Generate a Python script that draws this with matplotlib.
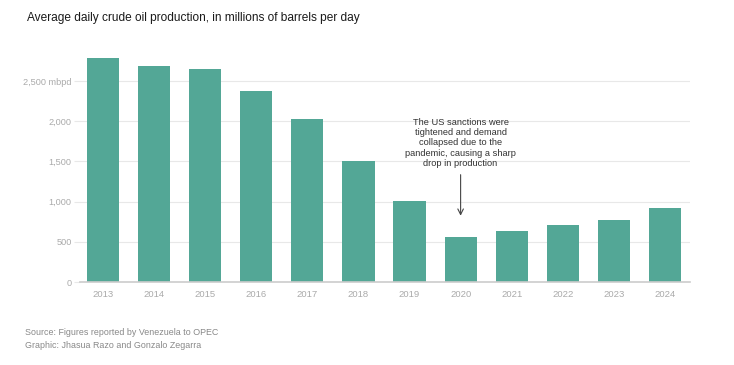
import matplotlib
matplotlib.use("Agg")
import matplotlib.pyplot as plt

years = ["2013", "2014", "2015", "2016", "2017", "2018", "2019", "2020", "2021", "2022", "2023", "2024"]
production = [2786, 2687, 2649, 2376, 2027, 1505, 1007, 560, 634, 709, 771, 920]
yticks = [0, 500, 1000, 1500, 2000, 2500]
ytick_labels = ["0", "500", "1,000", "1,500", "2,000", "2,500 mbpd"]

title = "Average daily crude oil production, in millions of barrels per day"
note = "The US sanctions were\ntightened and demand\ncollapsed due to the\npandemic, causing a sharp\ndrop in production"
source = "Source: Figures reported by Venezuela to OPEC\nGraphic: Jhasua Razo and Gonzalo Zegarra"

plt.rcParams['font.family'] = ['Liberation Sans', 'DejaVu Sans']

fig = plt.figure(figsize=(7.34, 3.65), dpi=100)
ax = fig.add_axes([80/734, 1-282/365, 610/734, (282-57)/365])

x = list(range(len(years)))
ax.bar(x, production, width=0.63, color="#53a796", zorder=2)

ax.set_xlim(-0.45, len(years) - 0.51)
ax.set_ylim(0, 2800)
ax.set_yticks(yticks)
ax.set_yticklabels(ytick_labels)
ax.set_xticks(x)
ax.set_xticklabels(years)

for s in ["top", "right", "left"]:
    ax.spines[s].set_visible(False)
ax.spines["bottom"].set_color("#cccccc")
ax.spines["bottom"].set_linewidth(1.2)
ax.spines["bottom"].set_zorder(3)

ax.grid(axis="y", color="#e8e8e8", linewidth=0.8, zorder=0)
ax.tick_params(axis="y", length=4, color="#e8e8e8", labelsize=6.6, labelcolor="#aaaaaa", pad=2)
ax.tick_params(axis="x", length=0, labelsize=6.8, labelcolor="#aaaaaa", pad=6)

# annotation
ax.annotate("", xy=(7, 790), xytext=(7, 1370),
            arrowprops=dict(arrowstyle="->", color="#444444", lw=0.8))
ax.text(7, 1420, note, ha="center", va="bottom", fontsize=6.7, color="#333333", linespacing=1.18)

fig.text(27/734, 1-18/365, title, ha="left", va="center", fontsize=8.6, color="#1a1a1a")
fig.text(25/734, 1-339/365, source, ha="left", va="center", fontsize=6.4, color="#888888", linespacing=1.45)

fig.savefig("out.png", dpi=100)
